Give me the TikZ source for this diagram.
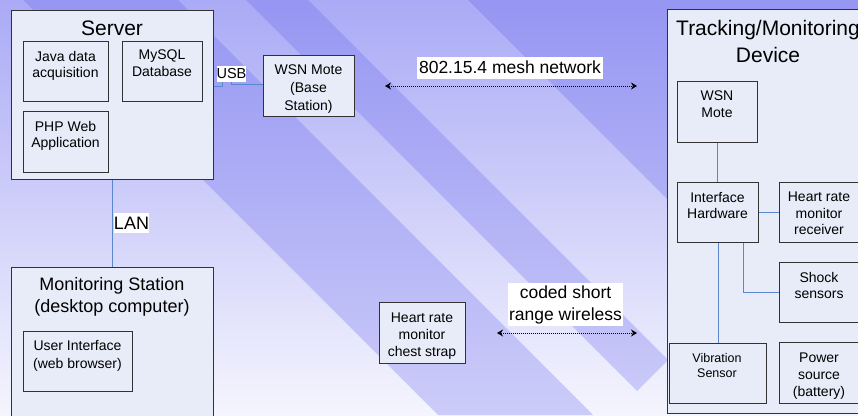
\documentclass[tikz,border=0pt]{standalone}
\usepackage{fontspec}
\setmainfont{Liberation Sans}
\usetikzlibrary{arrows.meta}

\definecolor{boxfill}{RGB}{231,236,248}
\definecolor{boxline}{RGB}{50,50,50}
\definecolor{wire}{RGB}{90,135,205}
\definecolor{bgtop}{RGB}{170,170,246}
\definecolor{bgbot}{RGB}{245,245,254}
\definecolor{bandtop}{RGB}{150,150,243}
\definecolor{bandbot}{RGB}{204,204,249}

\newcommand{\fsz}[2]{\fontsize{#1}{#2}\selectfont}

\begin{document}
\begin{tikzpicture}[x=1pt,y=-1pt,
  box/.style={draw=boxline, line width=1.1pt, fill=boxfill, anchor=north west, inner sep=0pt},
  sz/.style 2 args={minimum width=#1, minimum height=#2},
  txt/.style={align=center, inner sep=0pt, anchor=north},
  tag/.style={fill=white, inner sep=0pt, align=center},
  conn/.style={draw=wire, line width=1pt},
  wireless/.style={line width=0.9pt, dash pattern=on 1pt off 1pt,
    {Stealth[length=6pt,width=7pt]}-{Stealth[length=6pt,width=7pt]}},
]
\useasboundingbox (0,0) rectangle (858,415);
\clip (0,0) rectangle (858,415);

% backdrop: vertical gradient with three diagonal bands
\fill[top color=bgtop, bottom color=bgbot] (0,0) rectangle (858,415);
\begin{scope}
  \clip (23,0) -- (178,0) -- (593,415) -- (438,415) -- cycle
        (246,0) -- (308,0) -- (668,360) -- (637,391) -- cycle
        (468,0) -- (858,0) -- (858,390) -- cycle;
  \shade[top color=bandtop, bottom color=bandbot] (0,0) rectangle (858,415);
\end{scope}

% server
\node[box, sz={202}{169}] (server) at (11,10) {};
\node[txt, font={\fsz{21}{26}}] at (112,20.7) {Server};
\node[box, sz={85}{60}] (java) at (23,41) {};
\node[txt, font={\fsz{14}{16.5}}] at (65.5,50.8) {Java data\\acquisition};
\node[box, sz={80}{60}] (mysql) at (122,41) {};
\node[txt, font={\fsz{14}{16.5}}] at (162,49.8) {MySQL\\Database};
\node[box, sz={85}{61}] (php) at (23,111) {};
\node[txt, font={\fsz{14}{16.7}}] at (65.5,120.8) {PHP Web\\Application};

% base station mote
\node[box, sz={91}{61}] (wsnb) at (263,55) {};
\node[txt, font={\fsz{14}{17.7}}] at (308.5,64.8) {WSN Mote\\(Base\\Station)};

% USB link
\node[tag, sz={29}{16}, font={\fsz{14.5}{16}}] (usb) at (231.5,74) {USB};
\draw[conn] (server.east |- 0,86) -| ([xshift=-9.5pt]usb.south);
\draw[conn] (usb.south) |- (wsnb.west |- 0,84);

% monitoring station
\node[box, sz={202}{160}] (mon) at (11,267) {};
\node[txt, font={\fsz{18}{22}}] at (112,276.9) {Monitoring Station\\(desktop computer)};
\node[box, sz={109}{60}] (ui) at (23,331) {};
\node[txt, font={\fsz{14}{18}}] at (77.5,339.8) {User Interface\\(web browser)};

% LAN link
\draw[conn] (server.south) -- (mon.north);
\node[tag, sz={35}{20}, font={\fsz{18}{20}}] (lan) at (131.5,223) {LAN};

% chest strap
\node[box, sz={86}{61}] (strap) at (379,302) {};
\node[txt, font={\fsz{14}{17}}] at (422,312.8) {Heart rate\\monitor\\chest strap};

% tracking / monitoring device
\node[box, sz={202}{404}] (device) at (667,9) {};
\node[txt, font={\fsz{21}{26.5}}] at (768,20.2) {Tracking/Monitoring\\Device};
\node[box, sz={80}{61}] (dwsn) at (677,81) {};
\node[txt, font={\fsz{14}{17}}] at (717,90.8) {WSN\\Mote};
\node[box, sz={81}{60}] (iface) at (677,182) {};
\node[txt, font={\fsz{14}{16.5}}] at (717.5,191.8) {Interface\\Hardware};
\node[box, sz={81}{60}] (hrr) at (779,182) {};
\node[txt, font={\fsz{14}{16.5}}] at (819,191.8) {Heart rate\\monitor\\receiver};
\node[box, sz={81}{60}] (shock) at (779,262) {};
\node[txt, font={\fsz{14}{16.5}}] at (819,271.8) {Shock\\sensors};
\node[box, sz={97}{60}] (vib) at (669,343) {};
\node[txt, font={\fsz{12.5}{15}}] at (717,352.9) {Vibration\\Sensor};
\node[box, sz={81}{61}] (power) at (779,342) {};
\node[txt, font={\fsz{14}{17}}] at (819,352.8) {Power\\source\\(battery)};

% internal wiring of the device
\draw[conn] (dwsn.south) -- (dwsn.south |- iface.north);
\draw[conn] (iface.east) -- (hrr.west);
\draw[conn] ([xshift=25.5pt]iface.south) |- (shock.west);
\draw[conn] (iface.south) -- (iface.south |- vib.north);

% radio links
\coordinate (meshL) at (385,86);
\coordinate (meshR) at (637,86);
\draw[wireless] (meshL) -- (meshR);
\node[tag, sz={186}{22}, font={\fsz{17.5}{20}}] (mesh) at (510,67.5) {802.15.4 mesh network};

\coordinate (hrL) at (497,333);
\coordinate (hrR) at (637,333);
\draw[wireless] (hrL) -- (hrR);
\node[tag, sz={115}{43}, font={\fsz{17.5}{22}}] (coded) at (565.5,304.5) {coded short\\range wireless};
\end{tikzpicture}
\end{document}
